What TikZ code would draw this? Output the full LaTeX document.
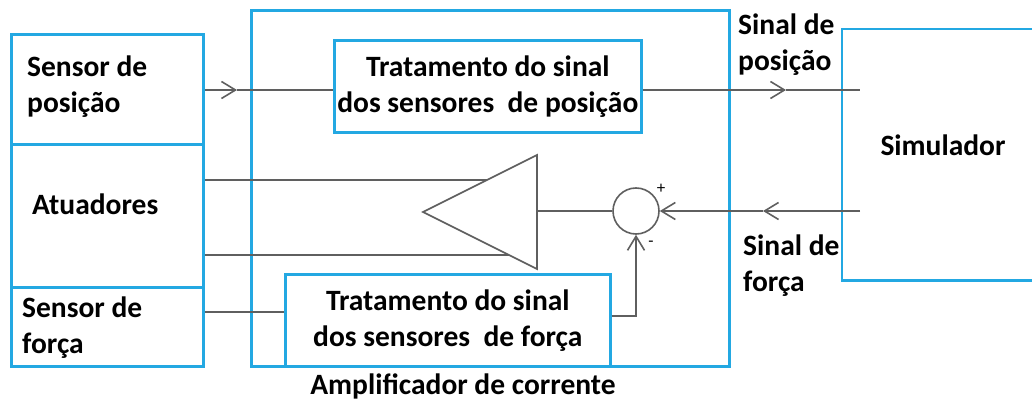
\documentclass[tikz,border=0pt]{standalone}
\usepackage{fontspec}
\setmainfont{Carlito}
\usetikzlibrary{arrows.meta}
\definecolor{azul}{RGB}{35,168,226}
\definecolor{cinza}{RGB}{95,95,95}

\begin{document}
\begin{tikzpicture}[x=1pt, y=-1pt, font=\bfseries\fontsize{29.5}{36}\selectfont,
	caixa/.style={draw=azul, line width=2.6pt, inner sep=0pt},
	linha/.style={draw=cinza, line width=1.6pt},
	seta/.style={linha, -{Straight Barb[length=14pt,width=17pt]}},
	texto/.style={align=left, inner sep=0pt}]
	\useasboundingbox (0,0) rectangle (1032,403);

	\node [caixa, anchor=north west, minimum width=192, minimum height=110] (sp) at (10,33) {};
	\node [caixa, anchor=north west, minimum width=192, minimum height=143] (at) at (10,143) {};
	\node [caixa, anchor=north west, minimum width=192, minimum height=79] (sf) at (10,286) {};
	\node [caixa, anchor=north west, minimum width=478, minimum height=356] (amp) at (250,9) {};
	\node [caixa, anchor=north west, minimum width=307, minimum height=92, align=center] (tp) at (333,39) {Tratamento do sinal\\dos sensores~ de posição};
	\node [caixa, anchor=north west, minimum width=325, minimum height=92, align=center, fill=white] (tf) at (284,273) {Tratamento do sinal\\dos sensores~ de força};
	\node [anchor=north west, minimum width=190, minimum height=251] (sim) at (842,29) {};
	\draw [azul, line width=2.6pt] (sim.north east) -- (sim.north west) -- (sim.south west) -- (sim.south east);

	\node [texto, anchor=west] (spt) at (27,87) {Sensor de\\posição};
	\node [texto, anchor=west] (att) at (32,204) {Atuadores};
	\node [texto, anchor=west] (sft) at (22,328) {Sensor de\\força};
	\node [texto] (ampt) at (463,386) {Amplificador de corrente};
	\node [texto, anchor=west] (spos) at (738,45) {Sinal de\\posição};
	\node [texto, anchor=west] (sfor) at (743,266) {Sinal de\\força};
	\node [texto] (simt) at (943,145) {Simulador};

	% amplificador
	\coordinate (ta) at (423,212);
	\coordinate (tb) at (537,155);
	\coordinate (tc) at (537,269);
	\draw [linha] (tb) -- (ta) -- (tc) -- cycle;
	\coordinate (t1) at (487,180);
	\coordinate (t2) at (509,255);
	\coordinate (t3) at (537,211);
	\node [draw=cinza, line width=1.6pt, circle, minimum size=46, inner sep=0pt] (soma) at (636,211) {};
	\node [font=\normalfont\fontsize{17}{17}\selectfont] (mais) at (661,189) {+};
	\node [font=\normalfont\fontsize{17}{17}\selectfont] (menos) at (651,244) {-};

	% sinais
	\coordinate (p1) at (237,90);
	\coordinate (p2) at (786,90);
	\coordinate (p3) at (860,90);
	\draw [seta] (sp.east |- p1) -- (p1);
	\draw [linha] (p1) -- (tp.west |- p1);
	\draw [seta] (tp.east |- p1) -- (p2);
	\draw [linha] (p2) -- (p3);
	\coordinate (f1) at (860,211);
	\coordinate (f2) at (763,211);
	\draw [seta] (f1) -- (f2);
	\draw [seta] (f2) -- (soma.east);
	\draw [linha] (soma.west) -- (t3);
	\draw [linha] (at.east |- t1) -- (t1);
	\draw [linha] (at.east |- t2) -- (t2);
	\draw [linha] (sf.east |- 0,312) -- (tf.west |- 0,312);
	\draw [seta] (tf.east |- 0,316) -| (soma.south);
%	\draw [step=50, very thin] (0,0) grid (1032,403);
\end{tikzpicture}
\end{document}
